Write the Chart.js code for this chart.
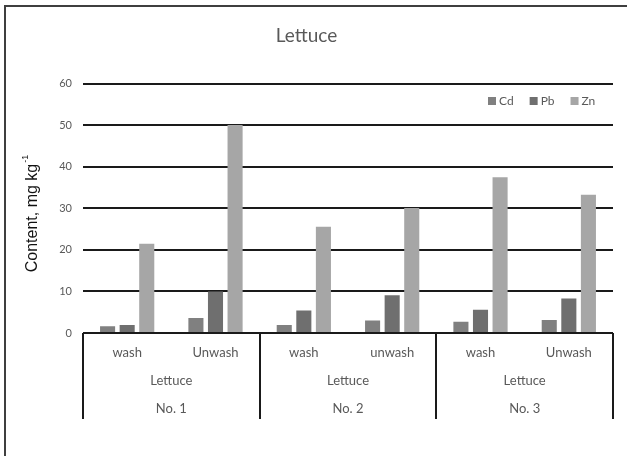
<!DOCTYPE html>
<html>
<head>
<meta charset="utf-8">
<script src="https://cdn.jsdelivr.net/npm/chart.js@4/dist/chart.umd.min.js"></script>
<style>
  html, body { margin: 0; padding: 0; background: #fff; }
  #wrap { width: 627px; height: 456px; }
</style>
</head>
<body>
<div id="wrap"><canvas id="myChart" width="627" height="456"></canvas></div>
<script>
// data
var categories = ["wash", "Unwash", "wash", "unwash", "wash", "Unwash"];
var groupNames = ["No. 1", "No. 2", "No. 3"];
var groupPlant = "Lettuce";
var cdValues = [1.6, 3.6, 1.9, 3.0, 2.7, 3.1];
var pbValues = [1.9, 10.0, 5.4, 9.1, 5.6, 8.3];
var znValues = [21.5, 50.1, 25.6, 30.1, 37.5, 33.3];
var seriesNames = ["Cd", "Pb", "Zn"];
var seriesColors = ["#808080", "#6f6f6f", "#a6a6a6"];

var textGray = "#595959";
var fontName = "Lato, 'Open Sans', sans-serif";

// frame, multi level x labels, legend and y title
var extras = {
  id: "extras",
  beforeDraw: function(chart) {
    var ctx = chart.ctx;
    ctx.save();
    ctx.fillStyle = "#fff";
    ctx.fillRect(0, 0, chart.width, chart.height);
    ctx.strokeStyle = "#3f3f3f";
    ctx.lineWidth = 2;
    ctx.beginPath();
    ctx.moveTo(5, chart.height);
    ctx.lineTo(5, 6);
    ctx.lineTo(chart.width, 6);
    ctx.stroke();
    ctx.restore();
  },
  afterDatasetsDraw: function(chart) {
    var ctx = chart.ctx;
    var x = chart.scales.x;
    var area = chart.chartArea;
    var step = x.getPixelForValue(1) - x.getPixelForValue(0);
    ctx.save();

    // box under the bars
    ctx.strokeStyle = "#1a1a1a";
    ctx.lineWidth = 2;
    ctx.beginPath();
    ctx.moveTo(area.left, area.bottom);
    ctx.lineTo(area.right, area.bottom);
    for (var g = 0; g <= groupNames.length; g++) {
      var bx = Math.round(x.getPixelForValue(g * 2) - step / 2);
      ctx.moveTo(bx, area.bottom);
      ctx.lineTo(bx, 419);
    }
    ctx.stroke();

    ctx.fillStyle = textGray;
    ctx.textAlign = "center";
    ctx.textBaseline = "middle";
    ctx.font = "13px " + fontName;
    categories.forEach(function(c, i) {
      ctx.fillText(c, x.getPixelForValue(i), 353);
    });
    groupNames.forEach(function(n, g) {
      var cx = (x.getPixelForValue(g * 2) + x.getPixelForValue(g * 2 + 1)) / 2;
      ctx.fillText(groupPlant, cx, 381);
      ctx.fillText(n, cx, 409);
    });

    // legend
    ctx.font = "12px " + fontName;
    ctx.textAlign = "left";
    var lx = 488;
    chart.data.datasets.forEach(function(ds) {
      ctx.fillStyle = ds.backgroundColor;
      ctx.fillRect(lx, 97, 8, 8);
      ctx.fillStyle = textGray;
      ctx.fillText(ds.label, lx + 11, 101);
      lx += 11 + ctx.measureText(ds.label).width + 16;
    });

    // y axis title
    ctx.translate(33, 214);
    ctx.rotate(-Math.PI / 2);
    ctx.fillStyle = "#111";
    ctx.font = "16px 'Liberation Sans', Arial, sans-serif";
    var main = "Content, mg kg";
    ctx.font = "16px 'Liberation Sans', Arial, sans-serif";
    var w1 = ctx.measureText(main).width;
    ctx.font = "9px 'Liberation Sans', Arial, sans-serif";
    var w2 = ctx.measureText("-1").width;
    var start = -(w1 + w2) / 2;
    ctx.textAlign = "left";
    ctx.font = "16px 'Liberation Sans', Arial, sans-serif";
    ctx.fillText(main, start, 0);
    ctx.font = "9px 'Liberation Sans', Arial, sans-serif";
    ctx.fillText("-1", start + w1 + 1, -7);
    ctx.restore();
  }
};

var ctx = document.getElementById("myChart").getContext("2d");
var myChart = new Chart(ctx, {
  type: "bar",
  data: {
    labels: categories,
    datasets: [
      { label: seriesNames[0], data: cdValues, backgroundColor: seriesColors[0] },
      { label: seriesNames[1], data: pbValues, backgroundColor: seriesColors[1] },
      { label: seriesNames[2], data: znValues, backgroundColor: seriesColors[2] }
    ]
  },
  options: {
    responsive: false,
    animation: false,
    categoryPercentage: 0.665,
    barPercentage: 0.77,
    layout: { padding: { left: 0, right: 14, top: 0, bottom: 0 } },
    plugins: {
      legend: { display: false },
      tooltip: { enabled: false },
      title: {
        display: true,
        text: "Lettuce",
        color: textGray,
        font: { family: fontName, size: 19, weight: "normal" },
        padding: { top: 24, bottom: 37 }
      }
    },
    scales: {
      x: {
        ticks: { display: false },
        grid: { display: false },
        border: { display: false },
        afterFit: function(scale) { scale.height = 123; }
      },
      y: {
        min: 0,
        max: 60,
        ticks: {
          stepSize: 10,
          color: textGray,
          padding: 11,
          font: { family: fontName, size: 11 }
        },
        grid: { color: "#1a1a1a", lineWidth: 2, drawTicks: false },
        border: { display: false },
        afterFit: function(scale) { scale.width = 83; }
      }
    }
  },
  plugins: [extras]
});
</script>
</body>
</html>
